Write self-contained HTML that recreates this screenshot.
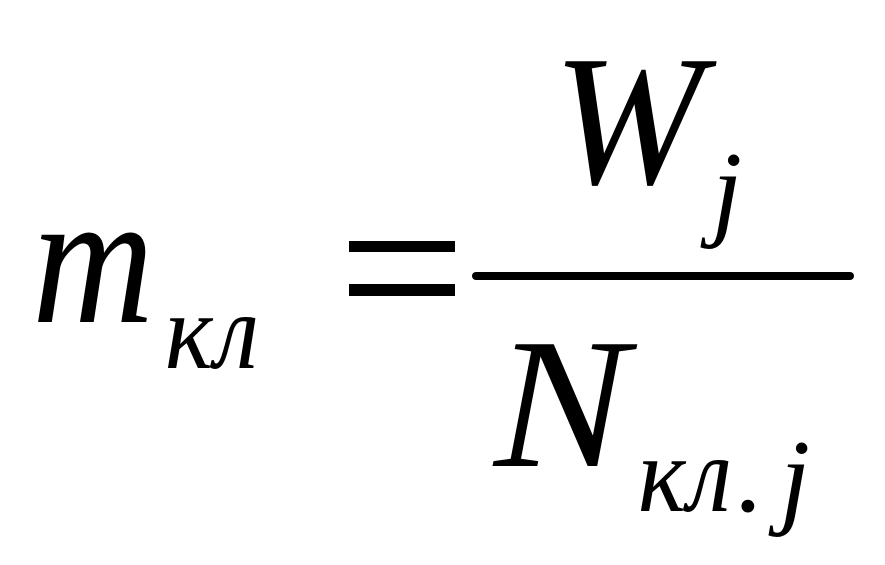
<!DOCTYPE html>
<html><head><meta charset="utf-8"><style>
html,body{margin:0;padding:0;background:#fff;}
svg{display:block;}
text{font-family:"Liberation Serif",serif;font-style:italic;fill:#000;}
</style></head><body>
<svg width="885" height="565" viewBox="0 0 885 565" xmlns="http://www.w3.org/2000/svg">
<text x="32" y="322" font-size="190" textLength="122" lengthAdjust="spacingAndGlyphs">m</text>
<text x="165" y="368" font-size="108" textLength="94" lengthAdjust="spacingAndGlyphs">кл</text>
<rect x="349" y="241" width="106" height="11" fill="#000"/>
<rect x="349" y="284" width="106" height="12" fill="#000"/>
<line x1="476" y1="276" x2="850" y2="276" stroke="#000" stroke-width="8" stroke-linecap="round"/>
<text x="553" y="183" font-size="186" textLength="150" lengthAdjust="spacingAndGlyphs">W</text>
<text x="712" y="226" font-size="108">j</text>
<text x="494" y="466" font-size="186" textLength="134" lengthAdjust="spacingAndGlyphs">N</text>
<text x="638" y="511" font-size="108" textLength="94" lengthAdjust="spacingAndGlyphs">кл</text>
<text x="737" y="511" font-size="108">.</text>
<text x="780" y="514" font-size="108">j</text>
</svg>
</body></html>
